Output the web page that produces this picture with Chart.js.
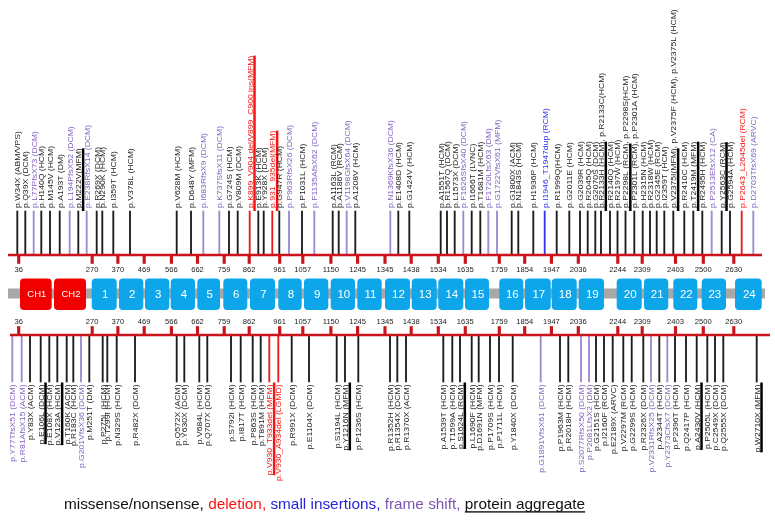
<!DOCTYPE html>
<html>
<head>
<meta charset="utf-8">
<script src="https://cdn.jsdelivr.net/npm/chart.js@4.4.1/dist/chart.umd.min.js"></script>
<style>
  html, body { margin: 0; padding: 0; background: #fff; }
  #wrap { width: 775px; height: 521px; }
</style>
</head>
<body>
<div id="wrap"><canvas id="titinChart" width="775" height="521"></canvas></div>
<script>
// residue numbers printed along both axes, and where they sit on the schematic
const tickLabels = ["36", "270", "370", "469", "566", "662", "759", "862", "961", "1057", "1150", "1245", "1345",
  "1438", "1534", "1635", "1759", "1854", "1947", "2036", "2244", "2309", "2403", "2500", "2630"];
const tickSlots = [18.7, 92.2, 117.9, 144.2, 171.4, 197.5, 224.2, 249.2, 279.7, 302.8, 330.9, 357.6, 385,
  411.2, 438.3, 465.3, 499.3, 524.7, 551.4, 578.3, 617.8, 642.2, 675.5, 703.3, 733.8];

// protein domains (CH = calponin homology, numbered = Ig-like repeats)
const domainNames = ["CH1", "CH2", "1", "2", "3", "4", "5", "6", "7", "8", "9", "10", "11", "12",
  "13", "14", "15", "16", "17", "18", "19", "20", "21", "22", "23", "24"];
const domainStart = [20, 54, 91.7, 119, 145, 170.7, 197.3, 223.3, 250, 278.3, 304, 330.7, 357.3, 385,
  411.7, 438.3, 465, 499.3, 525, 551.7, 578.7, 616.7, 644, 673.3, 701.7, 735];
const domainEnd = [51.7, 86, 116.7, 143.3, 169.3, 195, 220, 247.3, 275, 301.7, 328.3, 355, 381.7, 410,
  436.7, 463.3, 489, 523.3, 550.7, 576.7, 604, 641.7, 668.3, 697.3, 726, 761.7];

// variants above the protein
const topLabels = [
  "p.W34X (ABM/VPS)", "p.Q39X (DCM)", "p.L77PfsX73 (DCM)", "p.H140Q (HCM)", "p.M145V (HCM)",
  "p.A193T (DM)", "p.L194PfsX52 (DCM)", "p.M222V(MFM)", "p.E238RfsX14 (DCM)", "p.R269X (DCM)",
  "p.N290K (HCM)", "p.I359T (HCM)", "p.V378L (HCM)", "p.V628M (HCM)", "p.D648Y (MFM)",
  "p.I683RfsX9 (DCM)", "p.K737SfsX11 (DCM)", "p.G724S (HCM)", "p.V809M (DCM)",
  "p.K899_V904 del/V899_C900 ins(MFM)", "p.E913K (HCM)", "p.Y928X (DCM)", "p.931_935del(MFM)",
  "p.G947R (HCM)", "p.P963RfsX26 (DCM)", "p.P1031L (HCM)", "p.F1135AfsX62 (DCM)",
  "p.A1163L (RCM)", "p.A1186V (RCM)", "p.V1198GfsX64 (DCM)", "p.A1208V (HCM)",
  "p.N1369KfsX36 (DCM)", "p.E1408D (HCM)", "p.G1424V (HCM)", "p.A1551T (HCM)",
  "p.R1567Q (DCM)", "p.L1573X (DCM)", "p.F1626SfsX40 (DCM)", "p.I1666T (LVNC)",
  "p.T1681M (HCM)", "p.F1720LfsX63 (DM)", "p.G1722VfsX61 (MFM)", "p.G1800X (ACM)",
  "p.N1843S (HCM)", "p.H1936P (HCM)", "p.I1946_T1947dup (RCM)", "p.R1999Q(HCM)",
  "p.G2011E (HCM)", "p.G2039R (HCM)", "p.R2045Q (HCM)", "p.G2070S (DCM)",
  "p.R2133H (HCM), p.R2133C(HCM)", "p.R2140Q (HCM)", "p.R2197W (HCM)",
  "p.P2298L (RCM), p.P2298S(HCM)", "p.P2301L (RCM), p.P2301A (HCM)", "p.H2315N (HCM)",
  "p.R2318W (HCM)", "p.G2345E (RCM)", "p.I2359T (HCM)",
  "p.V2375I(MFM), p.V2375F (HCM), p.V2375L (HCM)", "p.R2410C (HCM)", "p.T2419M (MFM)",
  "p.R2495H (HCM)", "p.P2513EfsX12 (CA)", "p.Y2563C (RCM)", "p.G2594A (HCM)",
  "p.P2643_L2645del (RCM)", "p.D2703TfsX69 (ARVC)"
];
const topSlots = [17.3, 25.3, 33.7, 41.3, 50, 59.7, 69.7, 78.3, 86.7, 96.7, 102.3, 113.3, 130, 176.7,
  191, 203.3, 219.3, 229, 237.7, 249.7, 258.3, 263.7, 272.3, 279.3, 289, 302, 314.3, 332.7, 338.7,
  346.7, 355.3, 390.3, 398.3, 409.3, 440.7, 447, 454.7, 463.3, 471.7, 480.3, 488.3, 497, 511.7,
  518.3, 533.3, 544.7, 556.7, 569.3, 580, 587.7, 595.3, 601, 610, 617.5, 625.5, 634.3, 642.7, 650,
  656.7, 664.3, 673.3, 684.3, 693.3, 702.3, 711.7, 721.7, 730, 741.7, 753.3];
// m = missense/nonsense, d = deletion, i = small insertion, f = frame shift
const topTypes = ("mmfmmmfmfm" + "mmmmmffmmd" + "mmdmfmfmmf" + "mfmmmmmfmm" +
  "ffmmmimmmm" + "mmmmmmmmmm" + "mmmmfmmdf").split("");
const topAggregate = [7, 19, 22, 51, 54, 60, 62, 65];

// variants below the protein
const bottomLabels = [
  "p.Y77TfsX51 (DCM)", "p.R81AfsX15 (ACM)", "p.Y83X (ACM)", "p.E106L (DCM)", "p.E108X (HCM)",
  "p.V123A (HCM)", "p.T160K (ACM)", "p.R183C (HCM)", "p.G201VfsX36 (DCM)", "p.M251T (DM)",
  "p.P275L (HCM)", "p.T299I (HCM)", "p.N329S (HCM)", "p.R482X (DCM)", "p.Q572X (ACM)",
  "p.Y630X (DCM)", "p.V684L (HCM)", "p.Q707X (DCM)", "p.S792I (HCM)", "p.I817T (HCM)",
  "p.P863S (HCM)", "p.T891M (HCM)", "p.V930_T933del (MFM)", "p.V930_A934del (LGMD)",
  "p.R991X (DCM)", "p.E1104X (DCM)", "p.S1194L (HCM)", "p.Y1216N (MFM)", "p.P1236S (HCM)",
  "p.R1352H (HCM)", "p.R1354X (DCM)", "p.R1370X (ACM)", "p.A1539T (HCM)", "p.T1599A (HCM)",
  "p.S1624L (RCM)", "p.L1690F (HCM)", "p.D1691N (MFM)", "p.P1709S (HCM)", "p.P1711L (HCM)",
  "p.Y1840X (DCM)", "p.G1891VfsX61 (DCM)", "p.P1963M (HCM)", "p.R2018H (HCM)",
  "p.S2077RfsX50 (DCM)", "p.P2081LfsX2 (DM)", "p.G2151S (HCM)", "p.I2160F (RCM)",
  "p.E2189X (ARVC)", "p.V2297M (RCM)", "p.G2299S (HCM)", "p.R2326X (DCM)",
  "p.V2331RfsX25 (DCM)", "p.A2344T (HCM)", "p.Y2373CfsX7 (DCM)", "p.P2396T (HCM)",
  "p.Q2417P (HCM)", "p.A2430V (HCM)", "p.P2505L (HCM)", "p.C2549X (DCM)", "p.Q2555X (DCM)",
  "p.W2710X (MFM)"
];
const bottomSlots = [12.3, 21.7, 30, 40.7, 49.3, 57.3, 66.7, 73.3, 81, 89.3, 102.7, 107.3, 116.7,
  135, 176.7, 184.3, 199.3, 207.3, 231, 240.7, 252.7, 260.7, 269.3, 278.3, 291.7, 309, 336.7, 345,
  358.3, 390, 397.3, 406, 443.3, 452.3, 460, 471.7, 478.7, 490, 499, 512.7, 540.7, 560, 568.3, 581,
  589, 596, 604, 612.7, 623.3, 631.7, 643.3, 651, 659.3, 667.3, 675, 686, 696.7, 707.3, 715, 723.3,
  756.7];
const bottomTypes = ("ffmmmmmmfm" + "mmmmmmmmmm" + "mmddmmmmmm" + "mmmmmmmmmm" +
  "fmmffmmmmm" + "mfmfmmmmmm" + "m").split("");
const bottomAggregate = [3, 5, 22, 27, 34, 56, 60];

const legendParts = ["missense/nonsense, ", "deletion, ", "small insertions, ", "frame shift, ", "protein aggregate"];
const legendTypes = ["m", "d", "i", "f", "a"];

// layout (schematic units, the y axis runs top-down)
const TOP_AXIS = 255, BOTTOM_AXIS = 335;
const TOP_STEM_END = 211, BOTTOM_STEM_END = 382;
const LABEL_FONT = "8.6px 'Liberation Sans', Arial, sans-serif";

const stemColor = { m: "#1c1c1c", d: "#e81c1c", i: "#3535ee", f: "#a08ad0" };
const textColor = { m: "#222222", d: "#f21616", i: "#2e2ef2", f: "#8363c0", a: "#111111" };
const axisRed = "#c9141c";

function stemPoints(slots, from, to) {
  return slots.map((s) => ({ x: s, y: [from, to] }));
}

function drawVariantLabels(chart, labels, slots, types, aggregate, isTop) {
  const { ctx, scales } = chart;
  const startY = scales.y.getPixelForValue(isTop ? 208 : 384.5);
  ctx.font = LABEL_FONT;
  labels.forEach((text, i) => {
    const px = scales.x.getPixelForValue(slots[i]);
    const color = textColor[types[i]];
    ctx.save();
    ctx.translate(px + 2.8, startY);
    ctx.rotate(-Math.PI / 2);
    ctx.scale(1, 0.86); // the original lettering is a little narrow across
    ctx.fillStyle = color;
    ctx.textBaseline = "alphabetic";
    ctx.textAlign = isTop ? "left" : "right";
    ctx.fillText(text, 0, 0);
    if (aggregate.includes(i)) {
      const part = text.split(", ")[0];
      const w = ctx.measureText(part).width;
      ctx.fillStyle = types[i] === "m" ? "#000" : color;
      if (isTop) ctx.fillRect(-3, 0.9, w + 3, 2.9);
      else ctx.fillRect(-w, 0.9, w + 2, 2.9);
    }
    ctx.restore();
  });
}

const schemePlugin = {
  id: "titinScheme",
  beforeDatasetsDraw(chart) {
    const { ctx, scales } = chart;
    const x = scales.x, y = scales.y;
    ctx.save();

    // grey backbone
    const b0 = x.getPixelForValue(8), b1 = x.getPixelForValue(765);
    const bt = y.getPixelForValue(288.5), bb = y.getPixelForValue(298.5);
    ctx.fillStyle = "#a8a8a8";
    ctx.fillRect(b0, bt, b1 - b0, bb - bt);

    // domains
    const dt = y.getPixelForValue(278.5), db = y.getPixelForValue(310);
    domainNames.forEach((name, i) => {
      const l = x.getPixelForValue(domainStart[i]);
      const r = x.getPixelForValue(domainEnd[i]);
      const isCH = name.startsWith("CH");
      ctx.fillStyle = isCH ? "#f20000" : "#0ea6ea";
      ctx.beginPath();
      ctx.roundRect(l, dt, r - l, db - dt, 4);
      ctx.fill();
      ctx.fillStyle = "#ffffff";
      ctx.font = (isCH ? "9.5px" : "11.5px") + " 'Liberation Sans', Arial, sans-serif";
      ctx.textAlign = "center";
      ctx.textBaseline = "middle";
      ctx.fillText(name, (l + r) / 2 + 1, (dt + db) / 2 + 0.5);
    });
    ctx.restore();
  },
  afterDatasetsDraw(chart) {
    const { ctx, scales } = chart;
    ctx.save();

    // residue tick labels
    ctx.font = "7.6px 'Liberation Sans', Arial, sans-serif";
    ctx.fillStyle = "#222";
    ctx.textAlign = "center";
    ctx.textBaseline = "middle";
    tickLabels.forEach((t, i) => {
      const px = scales.x.getPixelForValue(tickSlots[i]);
      ctx.fillText(t, px, scales.y.getPixelForValue(269.5));
      ctx.fillText(t, px, scales.y.getPixelForValue(321.5));
    });

    drawVariantLabels(chart, topLabels, topSlots, topTypes, topAggregate, true);
    drawVariantLabels(chart, bottomLabels, bottomSlots, bottomTypes, bottomAggregate, false);

    // legend line
    ctx.font = "15.35px 'Liberation Sans', Arial, sans-serif";
    ctx.textAlign = "left";
    ctx.textBaseline = "alphabetic";
    let lx = 64;
    const ly = 509;
    legendParts.forEach((part, i) => {
      const c = legendTypes[i] === "d" ? "#ff1010" : legendTypes[i] === "i" ? "#2424d8"
        : legendTypes[i] === "f" ? "#7b55b0" : "#111";
      ctx.fillStyle = c;
      ctx.fillText(part, lx, ly);
      const w = ctx.measureText(part).width;
      if (legendTypes[i] === "a") ctx.fillRect(lx, ly + 2.2, w, 1.4);
      lx += w;
    });
    ctx.restore();
  }
};

const ctx = document.getElementById("titinChart");

const titinChart = new Chart(ctx, {
  type: "bar",
  data: {
    datasets: [
      {
        type: "line",
        data: [{ x: 8, y: TOP_AXIS }, { x: 762, y: TOP_AXIS }],
        borderColor: axisRed,
        borderWidth: 2.6,
        pointRadius: 0,
        order: 1,
      },
      {
        type: "line",
        data: [{ x: 10, y: BOTTOM_AXIS }, { x: 770, y: BOTTOM_AXIS }],
        borderColor: axisRed,
        borderWidth: 2.6,
        pointRadius: 0,
        order: 1,
      },
      {
        data: stemPoints(tickSlots, TOP_AXIS, TOP_AXIS + 8.5),
        backgroundColor: axisRed,
        barThickness: 2.5,
        order: 2,
      },
      {
        data: stemPoints(tickSlots, BOTTOM_AXIS - 8.5, BOTTOM_AXIS),
        backgroundColor: axisRed,
        barThickness: 2.5,
        order: 2,
      },
      {
        data: stemPoints(topSlots, TOP_AXIS, TOP_STEM_END),
        backgroundColor: topTypes.map((t) => stemColor[t]),
        barThickness: 1.2,
        order: 3,
      },
      {
        data: stemPoints(bottomSlots, BOTTOM_AXIS, BOTTOM_STEM_END),
        backgroundColor: bottomTypes.map((t) => stemColor[t]),
        barThickness: 1.2,
        order: 3,
      },
    ],
  },
  options: {
    responsive: false,
    animation: false,
    devicePixelRatio: 1,
    layout: { padding: 0 },
    datasets: { bar: { grouped: false, borderWidth: 0 } },
    plugins: {
      legend: { display: false },
      tooltip: { enabled: false },
    },
    scales: {
      x: { type: "linear", min: 0, max: 775, offset: false, display: false },
      y: { type: "linear", min: 0, max: 521, reverse: true, display: false },
    },
  },
  plugins: [schemePlugin],
});
</script>
</body>
</html>
